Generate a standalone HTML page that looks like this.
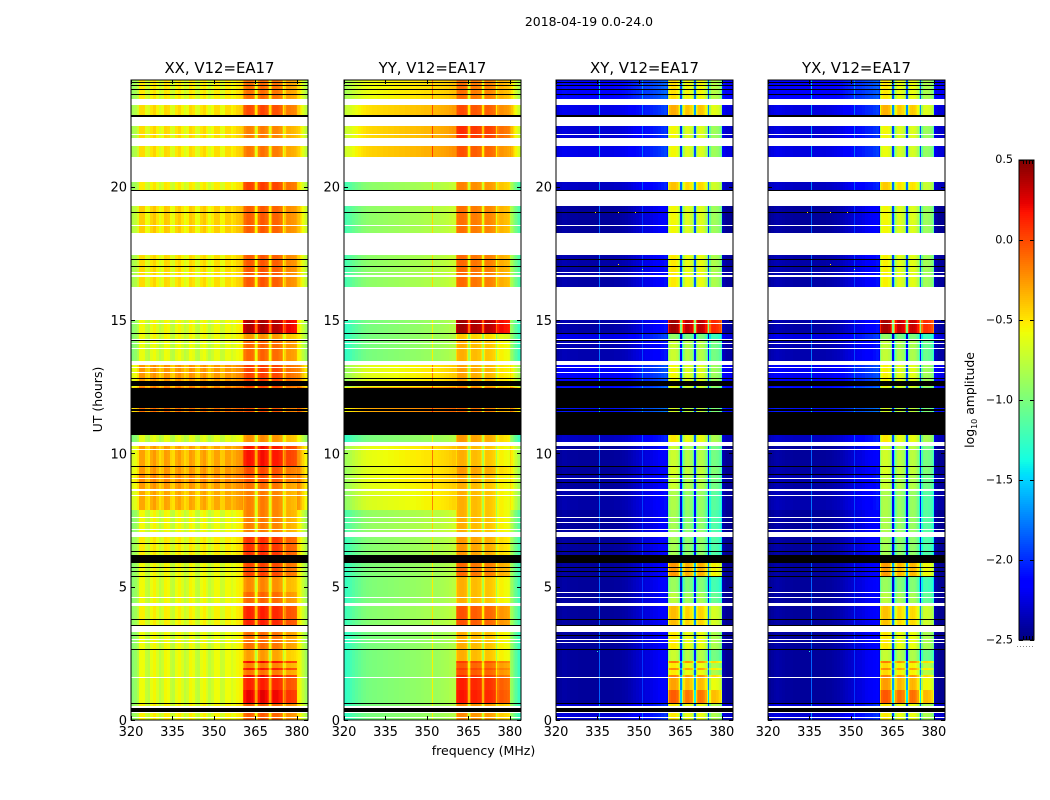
<!DOCTYPE html>
<html>
<head>
<meta charset="utf-8">
<title>2018-04-19 0.0-24.0</title>
<style>
html,body{margin:0;padding:0;background:#fff;}
svg{display:block;}
text{font-family:"DejaVu Sans","Liberation Sans",sans-serif;fill:#000;}
</style>
</head>
<body>
<svg id="figure" xmlns="http://www.w3.org/2000/svg" width="1050" height="800" viewBox="0 0 1050 800">
  <rect x="0" y="0" width="1050" height="800" fill="#fff"/>
  <text x="589" y="26" font-size="12.45" text-anchor="middle">2018-04-19 0.0-24.0</text>
  <text x="0" y="0" font-size="12.5" text-anchor="middle" transform="translate(102,399.5) rotate(-90)">UT (hours)</text>
  <text x="483.5" y="755" font-size="12.55" text-anchor="middle">frequency (MHz)</text>
  <text x="0" y="0" font-size="12.4" text-anchor="middle" transform="translate(974,400) rotate(-90)">log<tspan font-size="8" dy="3">10</tspan><tspan dy="-3"> amplitude</tspan></text>
  <g id="panels"></g>
  <g id="colorbar"></g>
</svg>
<script>
// Time-band edges (UT hours, top to bottom); each consecutive pair is one band.
var utEdges = [24,23.29,23.06,22.65,22.28,21.79,21.53,21.11,20.18,19.88,19.28,18.26,17.44,16.24,15,14.51,14.25,13.46,13.31,12.49,10.69,10.43,10.28,9.53,9.23,8.93,8.63,7.88,7.05,6.86,6.19,5.89,5.40,4.80,4.39,4.28,3.53,3.30,2.63,2.21,2.14,1.95,1.88,1.69,1.61,1.13,0.64,0];

// Per-band log10 amplitude below / inside the bright 360.5-380 MHz range (null = no data).
var xxLow  = [-.6,null,-.55,null,-.55,null,-.55,null,-.6,null,-.5,null,-.55,null,-.65,-.65,-.68,null,-.33,-.2,-.7,null,-.36,-.33,-.28,-.33,-.38,-.65,null,-.6,null,-.65,-.65,-.65,null,-.62,null,-.66,-.66,-.66,-.66,-.66,-.66,-.66,-.66,-.66,-.62];
var xxHigh = [-.2,null,-.08,null,-.25,null,-.22,null,-.05,null,-.14,null,-.13,null,.3,-.32,-.17,null,-.05,-.1,-.3,null,.1,-.08,-.1,-.2,-.25,-.25,null,0,null,-.06,-.28,-.17,null,.05,null,-.2,-.35,.12,-.25,.08,-.22,.12,.05,.15,-.15];
var yyLow  = [-.58,null,-.47,null,-.45,null,-.43,null,-.93,null,-.92,null,-.92,null,-1,-1,-1,null,-.62,-.3,-1,null,-.6,-.62,-.6,-.62,-.65,-.9,null,-.95,null,-.98,-.98,-.98,null,-.95,null,-1,-1,-1,-1,-1,-1,-1,-1,-1,-1];
var yyHigh = [-.22,null,-.1,null,0,null,-.12,null,-.28,null,-.22,null,-.2,null,.32,-.5,-.42,null,-.38,-.2,-.35,null,-.42,-.35,-.4,-.42,-.42,-.42,null,-.35,null,-.2,-.42,-.42,null,-.12,null,-.42,-.42,-.05,-.15,-.05,-.12,0,.05,.08,-.3];
var xyLow  = [-2.15,null,-2.25,null,-2.3,null,-2.25,null,-2.35,null,-2.45,null,-2.42,null,-2.42,-2.25,-2.4,null,-2.2,-2.1,-2.35,null,-2.45,-2.45,-2.42,-2.45,-2.42,-2.45,null,-2.45,null,-2.45,-2.45,-2.45,null,-2.45,null,-2.45,-2.45,-2.45,-2.45,-2.45,-2.45,-2.45,-2.45,-2.45,-2.3];
var xyHigh = [-.62,null,-.45,null,-.7,null,-.7,null,-.52,null,-.7,null,-.65,null,.28,-1.05,-.85,null,-.7,-.8,-.65,null,-.85,-.8,-.85,-.85,-.95,-.98,null,-.98,null,-.38,-1.02,-.9,null,-.5,null,-.65,-.85,-.3,-.65,-.35,-.65,-.3,-.42,-.2,-.65];
var yxLow  = [-2.18,null,-2.27,null,-2.3,null,-2.27,null,-2.35,null,-2.45,null,-2.42,null,-2.42,-2.27,-2.4,null,-2.22,-2.1,-2.35,null,-2.45,-2.43,-2.4,-2.43,-2.4,-2.45,null,-2.45,null,-2.45,-2.45,-2.45,null,-2.45,null,-2.45,-2.45,-2.45,-2.45,-2.45,-2.45,-2.45,-2.45,-2.45,-2.3];
var yxHigh = [-.65,null,-.47,null,-.7,null,-.73,null,-.55,null,-.7,null,-.68,null,.26,-1.05,-.88,null,-.68,-.8,-.65,null,-.83,-.8,-.87,-.85,-.95,-.95,null,-.98,null,-.4,-1.02,-.9,null,-.52,null,-.65,-.87,-.3,-.6,-.35,-.6,-.3,-.4,-.18,-.65];

// Channel start frequencies (MHz) and spectral shape for each product.
var channels = [320,321,322,323,324,325,326,327,328,329,330,331,332,333,334,335,336,337,338,339,340,341,342,343,344,345,346,347,348,349,350,351,352,353,354,355,356,357,358,359,360,360.5,361,361.5,362,362.5,363,363.5,364,364.5,365,365.5,366,366.5,367,367.5,368,368.5,369,369.5,370,370.5,371,371.5,372,372.5,373,373.5,374,374.5,375,375.5,376,376.5,377,377.5,378,378.5,379,379.5,380,380.5,381,381.5,382,382.5,383,383.5];
var xxShape = [-.3,-.25,-.15,.08,.08,-.08,-.12,.05,.11,0,-.11,-.05,.1,.08,-.08,-.11,.05,.1,0,-.1,-.05,.1,.06,-.08,-.11,.05,.1,0,-.1,-.03,.08,.08,-.06,-.05,.08,.08,0,.05,.1,.12,.15,-.1,.02,.06,.08,.08,.08,.06,.02,-.1,-.42,-.25,.02,.08,.1,.1,.08,.05,.02,-.1,-.4,-.2,.02,.06,.06,.06,.04,.02,0,-.1,-.42,-.25,-.1,-.08,-.08,-.08,-.1,-.1,-.12,-.15,.15,.12,.05,0,-.08,-.14,-.2,-.28];
var yyShape = [-.27,-.24,-.2,-.16,-.12,-.09,-.06,-.04,-.02,-.01,0,0,.01,.01,.02,.02,.03,.03,.04,.04,.05,.05,.06,.06,.07,.07,.08,.08,.09,.1,.1,.11,.12,.12,.13,.14,.15,.16,.18,.2,.2,-.05,.08,.1,.1,.1,.1,.08,.05,-.08,-.42,-.12,.05,.06,.06,.06,.04,.03,.02,-.06,-.4,-.1,.02,.03,.03,.02,.01,0,-.02,-.08,-.42,-.18,-.13,-.12,-.12,-.13,-.15,-.15,-.17,-.2,.15,.08,0,-.06,-.12,-.18,-.24,-.28];
var xyShape = [0,.03,.05,.05,.04,.03,.03,.03,.02,.02,.02,.02,.02,.02,.02,.02,.02,.02,.02,.02,.02,.03,.03,.04,.05,.06,.08,.1,.12,.14,.16,.18,.2,.2,.22,.24,.25,.27,.3,.33,.2,-.15,.1,.14,.14,.14,.14,.1,.02,-.2,-1.3,-.55,-.08,.03,.06,.06,.03,0,-.05,-.32,-1.2,-.25,-.02,.05,.07,.05,.02,-.02,-.1,-.4,-1.3,-.4,-.2,-.17,-.17,-.17,-.2,-.22,-.27,-.45,.1,.05,.03,0,0,0,0,0];
var yxShape = [0,.03,.05,.06,.05,.04,.03,.03,.03,.02,.02,.02,.02,.02,.02,.02,.02,.02,.02,.02,.02,.03,.03,.04,.05,.06,.08,.1,.12,.14,.16,.18,.2,.2,.22,.25,.26,.27,.3,.33,.2,-.15,.1,.14,.14,.14,.14,.1,.02,-.2,-1.25,-.55,-.08,.03,.06,.06,.03,0,-.05,-.32,-1.25,-.25,-.02,.05,.07,.05,.02,-.02,-.1,-.4,-1.25,-.4,-.2,-.17,-.17,-.17,-.2,-.22,-.27,-.45,.1,.05,.03,0,0,0,0,0];

// Narrow interference lines: frequency (MHz) and boost (dex), per product.
var xxRfiFreqs = [];
var xxRfiBoost = [];
var yyRfiFreqs = [351.8];
var yyRfiBoost = [.35];
var xyRfiFreqs = [335.7,351];
var xyRfiBoost = [.6,.3];
var yxRfiFreqs = [335.7,351];
var yxRfiBoost = [.6,.3];

// Flagged time ranges (UT).
var blackLinesUT = [23.94,23.80,23.65,23.46,22.70,22.64,19.04,17.28,17.01,14.50,14.25,12.83,12.72,9.51,9.21,8.91,6.63,6.33,5.73,5.57,5.39,3.78,3.55,3.18,2.65,0.63];
var blackSpanStarts = [19.88,12.66,12.46,11.66,11.56,6.19,0.45];
var blackSpanEnds   = [19.83,12.54,11.70,11.60,10.69,5.89,0.30];
var whiteLinesUT = [21.99,21.84,18.57,14.88,14.27,14.13,13.94,13.23,13.06,10.15,9.06,8.43,7.60,7.41,7.15,4.60,3.03,2.91,1.60,0.29,0.10];
var whiteSpanStarts = [16.80,16.69,8.65,0.52];
var whiteSpanEnds   = [16.76,16.60,8.60,0.45];
var crossHandWhiteLinesUT = [4.80];

// Isolated spikes in the cross-hand products.
var spikeFreqs  = [334,342.3,348.5,342.3,351,335];
var spikeTimes  = [19.04,19.04,19.04,17.1,16.9,2.6];
var spikeValues = [-.5,-.5,-.5,-.5,-.9,-1.3];

// Axis ticks and colour scale.
var freqTicks = [320,335,350,365,380];
var timeTicks = [0,5,10,15,20];
var cbarTicks = [0.5,0,-0.5,-1,-1.5,-2,-2.5];
var cbarLabels = ['0.5','0.0','\u22120.5','\u22121.0','\u22121.5','\u22122.0','\u22122.5'];
var panelTitles = ['XX, V12=EA17','YY, V12=EA17','XY, V12=EA17','YX, V12=EA17'];

var NS = 'http://www.w3.org/2000/svg';
var panelLefts = [131, 344, 556, 768];
var panelWidth = 177;
var plotTop = 80, plotBottom = 720;
var freqMin = 320, freqMax = 384, utMax = 24;
var vMin = -2.5, vMax = 0.5;
var brightLow = 360.5, brightHigh = 380;

function yScale(ut){ return plotBottom - (ut / utMax) * (plotBottom - plotTop); }
function xScale(left, f){ return left + (f - freqMin) / (freqMax - freqMin) * panelWidth; }
function lerp(pts, t){
  for (var i = 1; i < pts.length; i++) {
    if (t <= pts[i][0]) {
      var a = pts[i-1], b = pts[i];
      return a[1] + (b[1]-a[1]) * (t-a[0]) / (b[0]-a[0]);
    }
  }
  return pts[pts.length-1][1];
}
var jetR = [[0,0],[.35,0],[.66,1],[.89,1],[1,.5]];
var jetG = [[0,0],[.125,0],[.375,1],[.64,1],[.91,0],[1,0]];
var jetB = [[0,.5],[.11,1],[.34,1],[.65,0],[1,0]];
function jet(v){
  var t = Math.max(0, Math.min(1, (v - vMin) / (vMax - vMin)));
  return 'rgb(' + Math.round(lerp(jetR,t)*255) + ',' + Math.round(lerp(jetG,t)*255) + ',' + Math.round(lerp(jetB,t)*255) + ')';
}
function mk(tag, attrs, parent){
  var el = document.createElementNS(NS, tag);
  for (var k in attrs) el.setAttribute(k, attrs[k]);
  parent.appendChild(el);
  return el;
}

var products = [
  {low:xxLow, high:xxHigh, shape:xxShape, rf:xxRfiFreqs, rb:xxRfiBoost, cross:false, labels:true},
  {low:yyLow, high:yyHigh, shape:yyShape, rf:yyRfiFreqs, rb:yyRfiBoost, cross:false, labels:true},
  {low:xyLow, high:xyHigh, shape:xyShape, rf:xyRfiFreqs, rb:xyRfiBoost, cross:true, labels:true},
  {low:yxLow, high:yxHigh, shape:yxShape, rf:yxRfiFreqs, rb:yxRfiBoost, cross:true, labels:false}
];

var panelsRoot = document.getElementById('panels');

products.forEach(function(p, pi){
  var left = panelLefts[pi];
  var right = left + panelWidth;
  var g = mk('g', {}, panelsRoot);
  
  

  var heat = mk('g', {'shape-rendering':'crispEdges'}, g);
  
  

  for (var b = 0; b < utEdges.length - 1; b++) {
    if (p.low[b] === null || p.high[b] === null) continue;
    var y0 = Math.round(yScale(utEdges[b]));
    var y1 = Math.round(yScale(utEdges[b+1]));
    for (var c = 0; c < channels.length; c++) {
      var f0 = channels[c];
      var f1 = c + 1 < channels.length ? channels[c+1] : freqMax;
      var inBright = f0 >= brightLow && f0 < brightHigh;
      var value = (inBright ? p.high[b] : p.low[b]) + p.shape[c];
      var x0 = Math.round(xScale(left, f0));
      var x1 = Math.round(xScale(left, f1));
      var cell = mk('rect', {x:x0, y:y0, width:x1-x0, height:y1-y0, fill:jet(value)}, heat);
      
      
    }
    for (var r = 0; r < p.rf.length; r++) {
      var ci = 0;
      while (ci + 1 < channels.length && channels[ci+1] <= p.rf[r]) ci++;
      var rfi = mk('rect', {x:Math.round(xScale(left, p.rf[r])), y:y0, width:1, height:y1-y0, fill:jet(p.low[b] + p.shape[ci] + p.rb[r])}, heat);
      
      
    }
  }

  var drawSpan = function(u0, u1, color, name){
    var ya = Math.round(yScale(u0));
    var yb = Math.max(ya + 1, Math.round(yScale(u1)));
    var s = mk('rect', {x:left, y:ya, width:panelWidth, height:yb-ya, fill:color}, heat);
    
    
  };
  var drawLine = function(u, color, name){
    var s = mk('rect', {x:left, y:Math.round(yScale(u)), width:panelWidth, height:1, fill:color}, heat);
    
    
  };
  whiteLinesUT.forEach(function(u){ drawLine(u, '#fff', 'unflagged-gap-line'); });
  whiteSpanStarts.forEach(function(u, i){ drawSpan(u, whiteSpanEnds[i], '#fff', 'data-gap'); });
  blackLinesUT.forEach(function(u){ drawLine(u, '#000', 'flagged-line'); });
  blackSpanStarts.forEach(function(u, i){ drawSpan(u, blackSpanEnds[i], '#000', 'flagged-span'); });
  if (p.cross) {
    crossHandWhiteLinesUT.forEach(function(u){ drawLine(u, '#fff', 'unflagged-gap-line'); });
    spikeFreqs.forEach(function(f, i){
      var d = mk('rect', {x:Math.round(xScale(left, f)), y:Math.round(yScale(spikeTimes[i])), width:1, height:1, fill:jet(spikeValues[i])}, heat);
      
      
    });
  }

  var frame = mk('rect', {x:left, y:plotTop, width:panelWidth, height:plotBottom-plotTop, fill:'none', stroke:'#000', 'stroke-width':1}, g);
  
  

  freqTicks.forEach(function(f){
    var x = Math.round(xScale(left, f)) + 0.5;
    var t1 = mk('line', {x1:x, x2:x, y1:plotBottom, y2:plotBottom-4, stroke:'#000', 'stroke-width':1}, g);
    
    
    var t2 = mk('line', {x1:x, x2:x, y1:plotTop, y2:plotTop+4, stroke:'#000', 'stroke-width':1}, g);
    
    
    var lab = mk('text', {x:xScale(left, f), y:736, 'font-size':13, 'text-anchor':'middle'}, g);
    lab.textContent = String(f);
    
    
  });

  timeTicks.forEach(function(u){
    var y = Math.round(yScale(u)) + 0.5;
    var t1 = mk('line', {x1:left, x2:left+4, y1:y, y2:y, stroke:'#000', 'stroke-width':1}, g);
    
    
    var t2 = mk('line', {x1:right, x2:right-4, y1:y, y2:y, stroke:'#000', 'stroke-width':1}, g);
    
    
    if (p.labels) {
      var lab = mk('text', {x:left-4, y:yScale(u)+5, 'font-size':13, 'text-anchor':'end'}, g);
      lab.textContent = String(u);
      
      
    }
  });

  var title = mk('text', {x:left + panelWidth/2, y:73, 'font-size':14.9, 'text-anchor':'middle'}, g);
  title.textContent = panelTitles[pi];
  
  
});

// Colorbar
var cb = document.getElementById('colorbar');
var cbLeft = 1019, cbRight = 1034, cbTop = 160, cbBottom = 640;
function cbY(v){ return cbTop + (vMax - v) / (vMax - vMin) * (cbBottom - cbTop); }
var cbCells = mk('g', {'shape-rendering':'crispEdges'}, cb);


for (var yy = cbTop; yy < cbBottom; yy += 2) {
  var v = vMax - (yy + 1 - cbTop) / (cbBottom - cbTop) * (vMax - vMin);
  var seg = mk('rect', {x:cbLeft, y:yy, width:cbRight-cbLeft, height:2, fill:jet(v)}, cbCells);
  
  
}
var cbFrame = mk('rect', {x:cbLeft, y:cbTop, width:cbRight-cbLeft, height:cbBottom-cbTop, fill:'none', stroke:'#000', 'stroke-width':1}, cb);


cbarTicks.forEach(function(v, i){
  var y = Math.round(cbY(v)) + 0.5;
  var t1 = mk('line', {x1:cbLeft, x2:cbLeft+4, y1:y, y2:y, stroke:'#000', 'stroke-width':1}, cb);
  
  
  var t2 = mk('line', {x1:cbRight, x2:cbRight-4, y1:y, y2:y, stroke:'#000', 'stroke-width':1}, cb);
  
  
  var lab = mk('text', {x:1013, y:cbY(v)+(i === 0 ? 3 : 3.5), 'font-size':11.2, 'text-anchor':'end'}, cb);
  lab.textContent = cbarLabels[i];
  
  
});
for (var k = 0; k < 4; k++) {
  var x = cbLeft + 4.5 + k * 3;
  var a = mk('line', {x1:x, x2:x, y1:cbTop, y2:cbTop+4, stroke:'#000', 'stroke-width':1}, cb);
  
  
  var d = mk('line', {x1:x, x2:x, y1:cbBottom, y2:cbBottom-4, stroke:'#000', 'stroke-width':1}, cb);
  
  
}
var dots = mk('line', {x1:1017, x2:1035, y1:646.5, y2:646.5, stroke:'#888', 'stroke-width':1, 'stroke-dasharray':'1 2'}, cb);


</script>
</body>
</html>
